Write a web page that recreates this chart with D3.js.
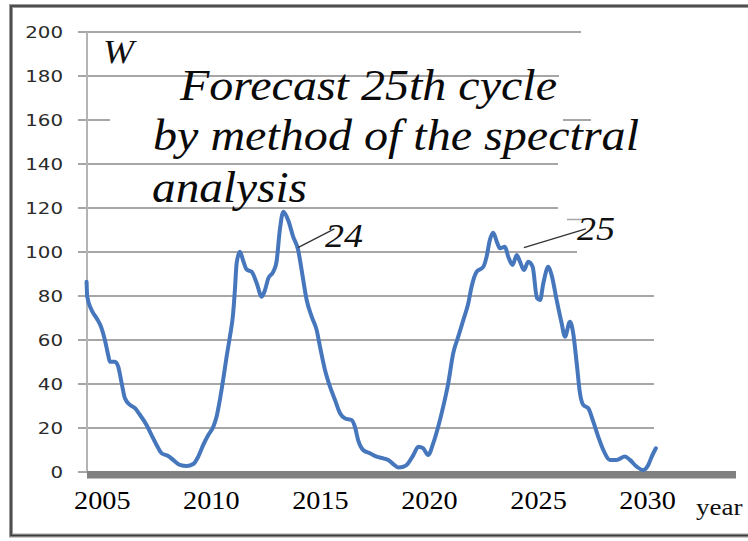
<!DOCTYPE html>
<html>
<head>
<meta charset="utf-8">
<script src="https://cdn.jsdelivr.net/npm/d3@7"></script>
<style>
  html, body { margin: 0; padding: 0; background: #fff; }
  svg { display: block; }
</style>
</head>
<body>
<svg id="chart" width="748" height="541"></svg>
<script>
// Smoothed Wolf number W: observed cycle 24 and the spectral forecast of cycle 25
const years = [
  2004.28, 2004.31, 2004.51, 2004.74, 2004.97, 2005.12, 2005.27, 2005.35, 2005.58, 2005.73,
  2005.89, 2006.04, 2006.27, 2006.50, 2006.73, 2007.03, 2007.26, 2007.49, 2007.72, 2008.02,
  2008.25, 2008.56, 2008.87, 2009.17, 2009.40, 2009.63, 2009.86, 2010.09, 2010.24, 2010.39,
  2010.54, 2010.70, 2010.85, 2011.00, 2011.08, 2011.16, 2011.31, 2011.46, 2011.62, 2011.85,
  2012.08, 2012.31, 2012.46, 2012.61, 2012.84, 2012.99, 2013.14, 2013.30, 2013.52, 2013.75,
  2013.98, 2014.14, 2014.37, 2014.60, 2014.83, 2014.98, 2015.21, 2015.44, 2015.67, 2015.90,
  2016.12, 2016.43, 2016.58, 2016.73, 2016.96, 2017.27, 2017.58, 2017.88, 2018.11, 2018.34,
  2018.57, 2018.80, 2018.95, 2019.26, 2019.49, 2019.71, 2019.94, 2020.17, 2020.40, 2020.63,
  2020.86, 2021.09, 2021.32, 2021.55, 2021.78, 2021.93, 2022.16, 2022.47, 2022.62, 2022.77,
  2022.92, 2023.11, 2023.23, 2023.46, 2023.61, 2023.81, 2024.00, 2024.15, 2024.33, 2024.53,
  2024.73, 2024.93, 2025.07, 2025.22, 2025.45, 2025.60, 2025.83, 2026.06, 2026.21, 2026.44,
  2026.59, 2026.75, 2026.90, 2027.05, 2027.28, 2027.51, 2027.74, 2027.97, 2028.28, 2028.58,
  2028.96, 2029.19, 2029.50, 2029.80, 2030.03, 2030.19, 2030.38
];
const wolf = [
  86.5, 79.7, 73.6, 69.9, 65.3, 60.0, 53.2, 50.1, 50.1, 47.9,
  40.3, 33.5, 30.5, 29.0, 25.9, 21.4, 16.8, 12.3, 8.5, 7.3,
  5.5, 3.2, 2.7, 3.6, 7.0, 12.3, 16.8, 20.6, 25.1, 32.7,
  41.8, 52.4, 61.5, 72.1, 82.7, 94.9, 100.1, 96.0, 92.0, 91.0,
  85.8, 79.7, 82.7, 88.0, 91.0, 95.6, 110.0, 118.3, 114.5, 107.0,
  100.9, 91.8, 78.2, 70.6, 64.5, 57.0, 46.4, 38.8, 32.7, 26.7,
  24.4, 23.6, 20.6, 14.5, 10.0, 8.5, 7.0, 6.2, 5.5, 3.6,
  2.1, 2.4, 3.2, 7.7, 11.5, 10.8, 7.7, 13.0, 20.6, 29.7,
  40.3, 54.0, 61.5, 69.0, 76.7, 84.2, 91.0, 93.3, 97.9, 105.5,
  108.8, 104.0, 101.7, 102.4, 97.9, 94.1, 98.6, 95.6, 91.8, 95.6,
  93.3, 79.0, 78.2, 85.8, 93.3, 89.5, 78.2, 67.6, 61.5, 68.3,
  63.0, 49.4, 35.8, 30.5, 29.0, 22.9, 16.0, 10.0, 5.5, 5.5,
  7.0, 5.5, 2.4, 0.9, 3.2, 7.0, 10.8
];
const yTickValues = [0, 20, 40, 60, 80, 100, 120, 140, 160, 180, 200];
const xTickYears = [2005, 2010, 2015, 2020, 2025, 2030];
const titleLines = ["Forecast 25th cycle", "by method of the spectral", "analysis"];
const cycleNames = ["24", "25"];
const cycleLeaderFrom = [[2013.97, 102], [2024.33, 102]];
const cycleLeaderTo = [[2015.64, 110.5], [2027.17, 110.5]];
const cycleLabelAt = [[2015.21, 102.5], [2026.76, 105.5]];

// ---- layout ----
const svg = d3.select("#chart");
const W = 748, H = 541;
const plot = { left: 87, top: 32, bottom: 472, tickStart: 78, right: 654, axisEnd: 736 };
const stretch = 1.13;   // text in this figure is set slightly wide

const x = d3.scaleLinear().domain([2004.3, 2030]).range([plot.left, 647.6]);
const y = d3.scaleLinear().domain([0, 200]).range([plot.bottom, plot.top]);

svg.append("rect").attr("width", W).attr("height", H).attr("fill", "#fff");

// outer frame
svg.append("rect")
  .attr("x", 11).attr("y", 6).attr("width", 760).attr("height", 529.5)
  .attr("fill", "none").attr("stroke", "#9a9a9a").attr("stroke-width", 4);
svg.append("rect")
  .attr("x", 11).attr("y", 6).attr("width", 760).attr("height", 529.5)
  .attr("fill", "none").attr("stroke", "#3c3c3c").attr("stroke-width", 1.6);

// horizontal gridlines: the upper ones are partly covered by the text boxes
const gridSpans = {
  20: [[plot.tickStart, plot.right]],
  40: [[plot.tickStart, plot.right]],
  60: [[plot.tickStart, plot.right]],
  80: [[plot.tickStart, plot.right]],
  100: [[plot.tickStart, 577]],
  120: [[plot.tickStart, 558]],
  140: [[plot.tickStart, 558]],
  160: [[plot.tickStart, 110], [563, 591]],
  180: [[plot.tickStart, 559]],
  200: [[plot.tickStart, 581]]
};
const grid = svg.append("g").attr("stroke", "#a6a6a6").attr("stroke-width", 2);
yTickValues.filter(v => v > 0).forEach(v => {
  gridSpans[v].forEach(([a, b]) => {
    grid.append("line")
      .attr("x1", a).attr("x2", b)
      .attr("y1", y(v)).attr("y2", y(v));
  });
});
// stray gridline piece just above the "25" label
grid.append("line").attr("x1", 567).attr("x2", 586)
  .attr("y1", 219.5).attr("y2", 219.5).attr("stroke-width", 1.5);

// zero tick stub
svg.append("line").attr("x1", plot.tickStart).attr("x2", plot.left)
  .attr("y1", y(0)).attr("y2", y(0)).attr("stroke", "#a6a6a6").attr("stroke-width", 2);

// vertical value axis
svg.append("line")
  .attr("x1", plot.left).attr("x2", plot.left)
  .attr("y1", y(200)).attr("y2", y(0))
  .attr("stroke", "#b4b4b4").attr("stroke-width", 2);

// category floor (thick gray bar)
svg.append("rect")
  .attr("x", plot.left).attr("y", y(0) - 1)
  .attr("width", plot.axisEnd - plot.left).attr("height", 7.5)
  .attr("fill", "#808080");

// value tick labels
svg.append("g").selectAll("text").data(yTickValues).join("text")
  .attr("transform", d => `translate(63,${y(d) + 6}) scale(1.2,1)`)
  .attr("text-anchor", "end")
  .attr("font-family", "DejaVu Sans, Verdana, sans-serif")
  .attr("font-size", 16.5)
  .attr("fill", "#2a2a2a")
  .text(d => d);

// year tick labels
svg.append("g").selectAll("text").data(xTickYears).join("text")
  .attr("transform", d => `translate(${x(d)},509) scale(${stretch},1)`)
  .attr("text-anchor", "middle")
  .attr("font-family", "Liberation Serif, Times New Roman, serif")
  .attr("font-size", 25)
  .attr("fill", "#000")
  .text(d => d);

svg.append("text")
  .attr("transform", `translate(696,515) scale(${stretch},1)`)
  .attr("font-family", "Liberation Serif, Times New Roman, serif")
  .attr("font-size", 24)
  .attr("fill", "#111")
  .text("year");

// axis title W
svg.append("text")
  .attr("x", 103).attr("y", 63)
  .attr("font-family", "Liberation Serif, Times New Roman, serif")
  .attr("font-style", "italic")
  .attr("font-size", 34)
  .attr("textLength", 31).attr("lengthAdjust", "spacingAndGlyphs")
  .attr("fill", "#111")
  .text("W");

// the series
const series = years.map((yr, i) => [yr, wolf[i]]);
svg.append("path")
  .datum(series)
  .attr("fill", "none")
  .attr("stroke", "#4677bd")
  .attr("stroke-width", 4)
  .attr("stroke-linejoin", "round")
  .attr("stroke-linecap", "round")
  .attr("d", d3.line().x(d => x(d[0])).y(d => y(d[1])).curve(d3.curveMonotoneX));

// title block
const titleFmt = [
  { x: 180, y: 100, len: 377 },
  { x: 153, y: 150, len: 486 },
  { x: 152, y: 202, len: 155 }
];
svg.append("g").selectAll("text").data(titleLines).join("text")
  .attr("x", (d, i) => titleFmt[i].x)
  .attr("y", (d, i) => titleFmt[i].y)
  .attr("textLength", (d, i) => titleFmt[i].len)
  .attr("lengthAdjust", "spacingAndGlyphs")
  .attr("font-family", "Liberation Serif, Times New Roman, serif")
  .attr("font-style", "italic")
  .attr("font-size", 44)
  .attr("fill", "#0a0a0a")
  .text(d => d);

// cycle numbers with leader lines
cycleNames.forEach((name, i) => {
  svg.append("line")
    .attr("x1", x(cycleLeaderFrom[i][0])).attr("y1", y(cycleLeaderFrom[i][1]))
    .attr("x2", x(cycleLeaderTo[i][0])).attr("y2", y(cycleLeaderTo[i][1]))
    .attr("stroke", "#333").attr("stroke-width", 1.3);
  svg.append("text")
    .attr("x", x(cycleLabelAt[i][0])).attr("y", y(cycleLabelAt[i][1]))
    .attr("font-family", "Liberation Serif, Times New Roman, serif")
    .attr("font-style", "italic")
    .attr("font-size", 33)
    .attr("textLength", 38).attr("lengthAdjust", "spacingAndGlyphs")
    .attr("fill", "#111")
    .text(name);
});
</script>
</body>
</html>
